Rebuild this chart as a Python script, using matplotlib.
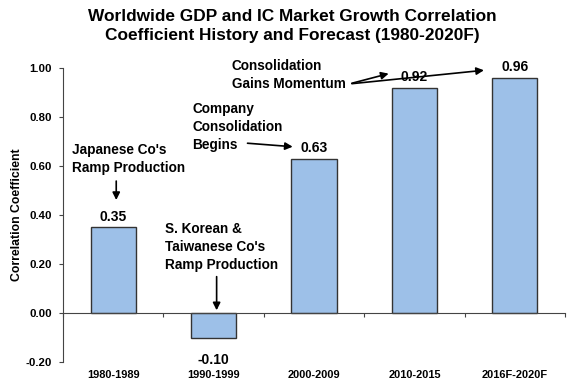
import numpy as np
import matplotlib.pyplot as plt
from matplotlib.transforms import blended_transform_factory

# donnees du graphique
periodes = ['1980-1989', '1990-1999', '2000-2009', '2010-2015', '2016F-2020F']
coeffs = [0.35, -0.10, 0.63, 0.92, 0.96]
yticks = [-0.20, 0.00, 0.20, 0.40, 0.60, 0.80, 1.00]

plt.rcParams['font.family'] = ['Liberation Sans', 'DejaVu Sans']
plt.rcParams['font.weight'] = 'bold'

fig = plt.figure(figsize=(5.73, 3.91), dpi=100)
ax = fig.add_axes([0.11, 0.074, 0.876, 0.752])

x = np.arange(len(periodes))
ax.bar(x, coeffs, width=0.45, color='#9dc0e8', edgecolor='#333333', linewidth=1.0, zorder=2)

ax.set_xlim(-0.5, len(periodes) - 0.5)
ax.set_ylim(-0.2, 1.0)
ax.set_yticks(yticks)
ax.set_yticklabels([f'{v:.2f}' for v in yticks], fontsize=8.2, fontweight='bold')
ax.tick_params(axis='y', direction='out', length=3, width=0.8, color='#444444', pad=5)

ax.spines['top'].set_visible(False)
ax.spines['right'].set_visible(False)
ax.spines['bottom'].set_position(('data', 0))
ax.spines['left'].set_color('#444444')
ax.spines['bottom'].set_color('#444444')

# ticks aux frontieres des categories
ax.set_xticks(np.arange(len(periodes) + 1) - 0.5)
ax.set_xticklabels([])
ax.tick_params(axis='x', direction='out', length=3, width=0.8, color='#444444')

tr = blended_transform_factory(ax.transData, ax.transAxes)
for xi, lab in zip(x, periodes):
    ax.text(xi, -0.045, lab, transform=tr, ha='center', va='center', fontsize=7.9, fontweight='bold')

ax.set_ylabel('Correlation Coefficient', fontsize=8.8, fontweight='bold', labelpad=2)

# valeurs
for xi, v in zip(x, coeffs):
    if v >= 0:
        ax.text(xi, v + 0.015, f'{v:.2f}', ha='center', va='bottom', fontsize=10, fontweight='bold')
    else:
        ax.text(xi, v - 0.065, f'{v:.2f}', ha='center', va='top', fontsize=10, fontweight='bold')

fig.suptitle('Worldwide GDP and IC Market Growth Correlation\nCoefficient History and Forecast (1980-2020F)',
             x=0.51, y=0.978, fontsize=12.4, fontweight='bold', linespacing=1.35)

akw = dict(arrowstyle='-|>', color='black', lw=1.2, mutation_scale=11)
tkw = dict(fontsize=9.8, fontweight='bold', ha='left', va='center', linespacing=1.35)

# Japanese
ax.text(-0.41, 0.63, "Japanese Co's\nRamp Production", **tkw)
ax.annotate('', xy=(0.03, 0.45), xytext=(0.03, 0.55), arrowprops=akw)

# S. Korean
ax.text(0.52, 0.27, "S. Korean &\nTaiwanese Co's\nRamp Production", **tkw)
ax.annotate('', xy=(1.03, 0.0), xytext=(1.03, 0.16), arrowprops=akw)

# Company consolidation
ax.text(0.79, 0.76, "Company\nConsolidation\nBegins", **tkw)
ax.annotate('', xy=(1.815, 0.678), xytext=(1.31, 0.694), arrowprops=akw)

# Gains momentum
ax.text(1.18, 0.973, "Consolidation\nGains Momentum", **tkw)
ax.annotate('', xy=(2.77, 0.98), xytext=(2.35, 0.935), arrowprops=akw)
ax.annotate('', xy=(3.72, 0.992), xytext=(2.35, 0.935), arrowprops=akw)

fig.savefig('out.png', dpi=100)
